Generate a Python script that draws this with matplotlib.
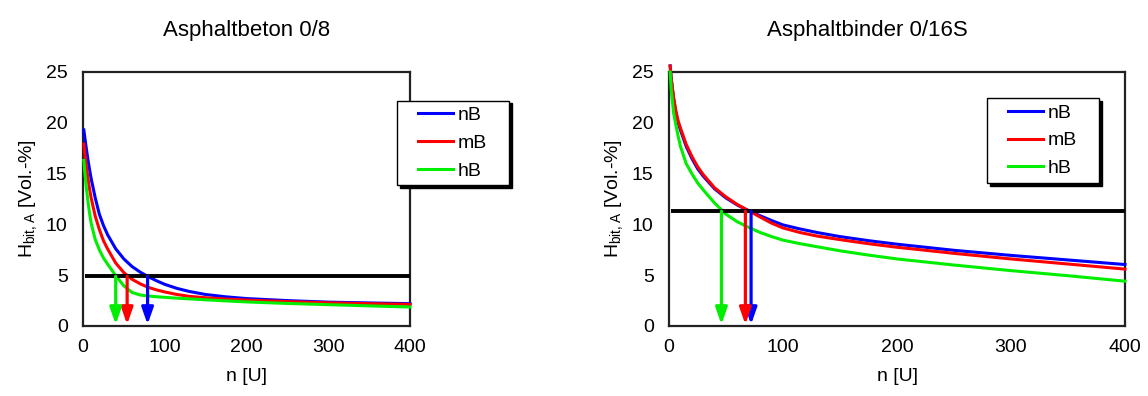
import matplotlib
matplotlib.use("Agg")
import numpy as np
import matplotlib.pyplot as plt
from matplotlib.legend_handler import HandlerLine2D

plt.rcParams['font.family'] = ['Liberation Sans', 'DejaVu Sans']
plt.rcParams['mathtext.default'] = 'regular'

# ---------------- data ----------------
titles = ["Asphaltbeton 0/8", "Asphaltbinder 0/16S"]
series_names = ["nB", "mB", "hB"]
series_colors = ["#0000FF", "#FF0000", "#00EE00"]

n_grid = [1, 2, 4, 6, 8, 10, 15, 20, 25, 30, 40, 50, 60, 70, 80, 90, 100,
          115, 130, 150, 175, 200, 250, 300, 350, 400]

# Asphaltbeton 0/8
left_nB = [19.3, 18.7, 17.5, 16.4, 15.4, 14.5, 12.6, 11.0, 9.9, 9.0, 7.6, 6.6,
           5.85, 5.3, 4.85, 4.45, 4.1, 3.7, 3.4, 3.1, 2.87, 2.7, 2.5, 2.35,
           2.27, 2.2]
left_mB = [17.9, 17.1, 15.8, 14.6, 13.5, 12.6, 10.8, 9.5, 8.4, 7.6, 6.2, 5.25,
           4.6, 4.15, 3.8, 3.55, 3.35, 3.1, 2.92, 2.78, 2.65, 2.55, 2.4, 2.28,
           2.2, 2.13]
left_hB = [16.3, 15.3, 13.7, 12.3, 11.1, 10.1, 8.5, 7.5, 6.7, 6.1, 4.95, 3.95,
           3.3, 3.05, 2.95, 2.88, 2.82, 2.74, 2.67, 2.58, 2.47, 2.37, 2.22,
           2.1, 1.98, 1.87]
left_limit = 4.9
left_arrows = [79, 54, 40]

# Asphaltbinder 0/16S
right_nB = [25.6, 24.3, 22.4, 21.0, 20.0, 19.3, 17.7, 16.5, 15.5, 14.75, 13.5,
            12.6, 11.9, 11.34, 10.85, 10.38, 9.95, 9.55, 9.2, 8.8, 8.4, 8.05,
            7.45, 6.95, 6.5, 6.05]
right_mB = [25.6, 24.3, 22.5, 21.2, 20.2, 19.5, 17.9, 16.7, 15.7, 14.9, 13.6,
            12.7, 11.95, 11.34, 10.72, 10.12, 9.65, 9.2, 8.85, 8.5, 8.1, 7.75,
            7.15, 6.6, 6.1, 5.6]
right_hB = [25.0, 23.2, 21.0, 19.8, 18.7, 17.7, 16.0, 15.0, 14.1, 13.4, 12.1,
            11.0, 10.25, 9.7, 9.2, 8.8, 8.45, 8.1, 7.8, 7.4, 6.98, 6.6, 6.0,
            5.45, 4.95, 4.41]
right_limit = 11.3
right_arrows = [72, 67, 46]

x_ticks = [0, 100, 200, 300, 400]
y_ticks = [0, 5, 10, 15, 20, 25]
x_label = "n [U]"
y_label = "$H_{bit,A}$ [Vol.-%]"


class PadLine(HandlerLine2D):
    """Legend line that starts a little inside its handle box."""
    def __init__(self, lpad, **kw):
        super().__init__(**kw)
        self.lpad = lpad

    def get_xdata(self, legend, xdescent, ydescent, width, height, fontsize):
        xd, xm = super().get_xdata(legend, xdescent, ydescent, width, height,
                                   fontsize)
        xd = np.asarray(xd, float).copy()
        xd[0] += self.lpad * fontsize
        return xd, xm


# ---------------- figure ----------------
fig = plt.figure(figsize=(11.48, 3.96), dpi=100)
W, H = 1148, 396
ax_l = fig.add_axes([83 / W, 1 - 326 / H, 327 / W, 254 / H])
ax_r = fig.add_axes([669 / W, 1 - 326 / H, 456 / W, 254 / H])

panels = [
    (ax_l, [left_nB, left_mB, left_hB], left_limit, left_arrows, 0.5,
     (0.960, 0.3, 0.3425, 0.587), 3),
    (ax_r, [right_nB, right_mB, right_hB], right_limit, right_arrows, 0.436,
     (0.697, 0.3, 0.246, 0.597), 2),
]

for i, (ax, data, limit, arrows, tx, legbox, xstart) in enumerate(panels):
    lines = []
    for name, col, vals in zip(series_names, series_colors, data):
        ln, = ax.plot(n_grid, vals, color=col, lw=2.2, label=name,
                      clip_on=False, zorder=3)
        lines.append(ln)
    ax.plot([xstart, 400], [limit, limit], color="black", lw=2.8, zorder=4,
            solid_capstyle="butt")
    for col, nx in zip(series_colors, arrows):
        ax.annotate("", xy=(nx, 0.15), xytext=(nx, limit),
                    arrowprops=dict(arrowstyle="-|>,head_width=0.35,head_length=1.0",
                                    color=col, lw=2.3, shrinkA=0, shrinkB=0),
                    zorder=5)
    ax.set_xlim(0, 400)
    ax.set_ylim(0, 25)
    ax.set_xticks(x_ticks)
    ax.set_yticks(y_ticks)
    ax.tick_params(length=0, labelsize=14)
    ax.tick_params(axis="x", pad=9)
    ax.tick_params(axis="y", pad=11)
    for sp in ax.spines.values():
        sp.set_linewidth(1.6)
        sp.set_color("#222222")
    ax.set_xlabel(x_label, fontsize=14, labelpad=9)
    ax.set_ylabel(y_label, fontsize=14, labelpad=5)
    ax.text(tx, 1.163, titles[i], transform=ax.transAxes, ha="center",
            va="center", fontsize=16)
    leg = ax.legend(handles=lines, loc="upper left", bbox_to_anchor=legbox,
                    mode="expand", fontsize=14,
                    frameon=True, fancybox=False, edgecolor="black",
                    framealpha=1, handlelength=2.58, handletextpad=0.25,
                    labelspacing=0.52, borderpad=0.3, borderaxespad=0,
                    handler_map={ln: PadLine(0.78) for ln in lines},
                    shadow={"color": "black", "alpha": 1})
    leg.get_frame().set_linewidth(1.0)
    leg.set_zorder(10)

fig.savefig("out.png", dpi=100)
